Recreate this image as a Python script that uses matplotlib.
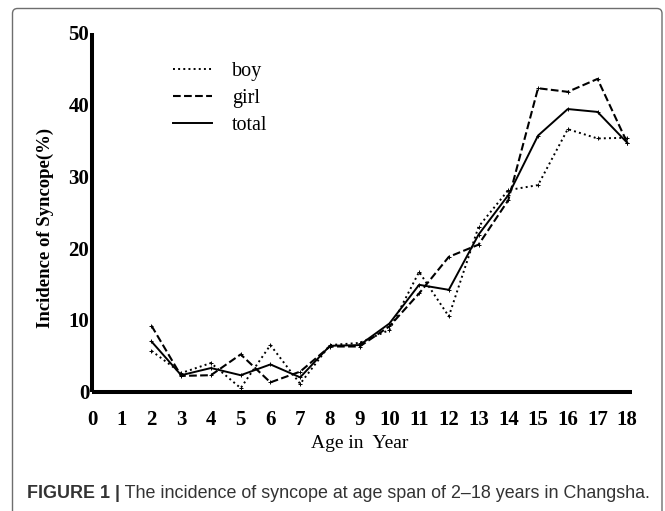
import numpy as np
import matplotlib
matplotlib.use('Agg')
from matplotlib import pyplot as plt
from matplotlib.patches import FancyBboxPatch

# datos
age = [2, 3, 4, 5, 6, 7, 8, 9, 10, 11, 12, 13, 14, 15, 16, 17, 18]
boy = [5.7, 2.6, 4.0, 0.5, 6.5, 1.1, 6.5, 6.8, 8.6, 16.7, 10.5, 23.0, 28.1, 28.8, 36.6, 35.3, 35.4]
girl = [9.2, 2.2, 2.3, 5.2, 1.3, 2.8, 6.3, 6.3, 9.1, 13.7, 18.8, 20.5, 26.7, 42.3, 41.8, 43.6, 34.7]
total = [7.0, 2.3, 3.3, 2.3, 3.8, 2.0, 6.4, 6.5, 9.5, 14.9, 14.2, 21.9, 27.4, 35.7, 39.4, 39.0, 34.7]
x_ticks = list(range(0, 19))
y_ticks = [0, 10, 20, 30, 40, 50]
caption_bold = 'FIGURE 1 |'
caption_text = ' The incidence of syncope at age span of 2\u201318 years in Changsha.'

plt.rcParams['font.family'] = ['Liberation Serif', 'DejaVu Serif']

fig = plt.figure(figsize=(6.65, 5.11), dpi=100)
fig.patch.set_facecolor('white')

#marco redondeado alrededor de la figura
frame = FancyBboxPatch((0.125, -0.5), 6.495, 5.525,
                       boxstyle='round,pad=0,rounding_size=0.05',
                       transform=fig.dpi_scale_trans, fill=False,
                       edgecolor='#6e6e6e', linewidth=1.0, clip_on=False)
fig.patches.append(frame)

ax = fig.add_axes([92 / 665, (511 - 391.7) / 511, (631.7 - 92) / 665, (391.7 - 33) / 511])

ax.plot(age, boy, linestyle=':', color='black', linewidth=1.4, label='boy',
        marker='+', markersize=3, markeredgewidth=0.7)
ax.plot(age, girl, linestyle='--', color='black', linewidth=1.5, label='girl',
        marker='+', markersize=3, markeredgewidth=0.7)
ax.plot(age, total, linestyle='-', color='black', linewidth=1.4, label='total',
        marker='+', markersize=3, markeredgewidth=0.7)

ax.set_xlim(0, 18.15)
ax.set_ylim(0, 50)
ax.set_xticks(x_ticks)
ax.set_yticks(y_ticks)
ax.tick_params(axis='both', length=0, labelsize=15)
ax.tick_params(axis='x', pad=13.5)
ax.tick_params(axis='y', pad=2)
for lbl in ax.get_xticklabels() + ax.get_yticklabels():
    lbl.set_fontweight('bold')

for side in ['top', 'right']:
    ax.spines[side].set_visible(False)
for side in ['left', 'bottom']:
    ax.spines[side].set_linewidth(2.9)
    ax.spines[side].set_capstyle('butt')

ax.set_xlabel('Age in  Year', fontsize=14, va='center')
ax.xaxis.set_label_coords((360 - 92) / 539.7, (391.7 - 443) / 358.7)
ax.set_ylabel('Incidence of Syncope(%)', fontsize=13.5, fontweight='bold', va='center')
ax.yaxis.set_label_coords((45 - 92) / 539.7, (391.7 - 227.5) / 358.7)

ax.legend(loc='upper left', bbox_to_anchor=((172.7 - 92) / 539.7, (391.7 - 62) / 358.7),
          frameon=False, fontsize=14.5, handlelength=1.95, handletextpad=1.0,
          labelspacing=0.38, borderpad=0, borderaxespad=0)
for h in ax.get_legend().legend_handles:
    h.set_marker('')

#pie de figura
t1 = fig.text(27 / 665, 1 - 493 / 511, caption_bold, fontsize=12.9, fontweight='bold',
              family=['Liberation Sans', 'DejaVu Sans'], color='#333333', va='center')
fig.canvas.draw()
ax.annotate(caption_text, xy=(1, 0.5), xycoords=t1, va='center', ha='left',
            fontsize=12.9, family=['Liberation Sans', 'DejaVu Sans'], color='#333333',
            annotation_clip=False)

plt.savefig('out.png', dpi=100)
